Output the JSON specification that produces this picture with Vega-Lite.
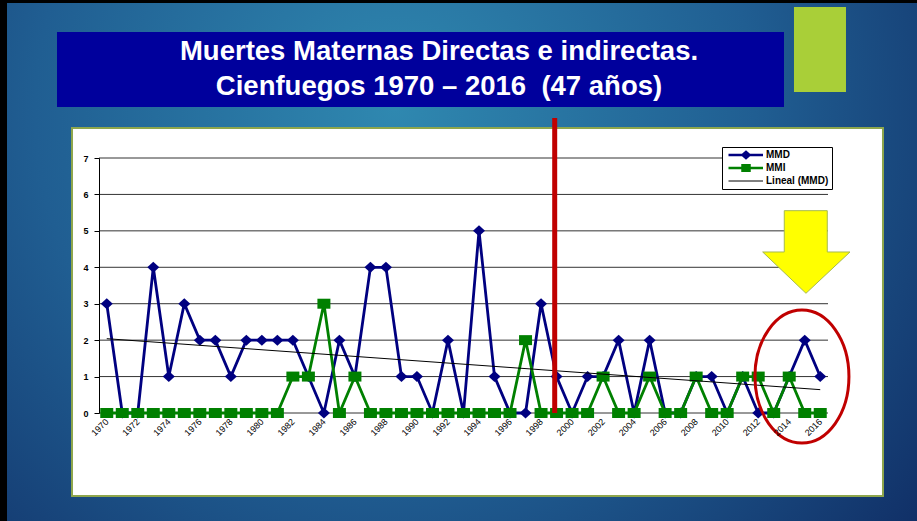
{
  "$schema": "https://vega.github.io/schema/vega-lite/v6.json",
  "width": 729,
  "height": 255,
  "autosize": {"type": "none"},
  "padding": {"left": 99, "top": 158, "right": 89, "bottom": 108},
  "background": "#000000",
  "config": {"view": {"stroke": null}, "font": "Liberation Sans", "axis": {"labelOverlap": false}},
  "resolve": {"axis": {"x": "independent", "y": "independent"}},
  "data": {"values": [
    {"year": 1970, "MMD": 3, "MMI": 0}, {"year": 1971, "MMD": 0, "MMI": 0}, {"year": 1972, "MMD": 0, "MMI": 0},
    {"year": 1973, "MMD": 4, "MMI": 0}, {"year": 1974, "MMD": 1, "MMI": 0}, {"year": 1975, "MMD": 3, "MMI": 0},
    {"year": 1976, "MMD": 2, "MMI": 0}, {"year": 1977, "MMD": 2, "MMI": 0}, {"year": 1978, "MMD": 1, "MMI": 0},
    {"year": 1979, "MMD": 2, "MMI": 0}, {"year": 1980, "MMD": 2, "MMI": 0}, {"year": 1981, "MMD": 2, "MMI": 0},
    {"year": 1982, "MMD": 2, "MMI": 1}, {"year": 1983, "MMD": 1, "MMI": 1}, {"year": 1984, "MMD": 0, "MMI": 3},
    {"year": 1985, "MMD": 2, "MMI": 0}, {"year": 1986, "MMD": 1, "MMI": 1}, {"year": 1987, "MMD": 4, "MMI": 0},
    {"year": 1988, "MMD": 4, "MMI": 0}, {"year": 1989, "MMD": 1, "MMI": 0}, {"year": 1990, "MMD": 1, "MMI": 0},
    {"year": 1991, "MMD": 0, "MMI": 0}, {"year": 1992, "MMD": 2, "MMI": 0}, {"year": 1993, "MMD": 0, "MMI": 0},
    {"year": 1994, "MMD": 5, "MMI": 0}, {"year": 1995, "MMD": 1, "MMI": 0}, {"year": 1996, "MMD": 0, "MMI": 0},
    {"year": 1997, "MMD": 0, "MMI": 2}, {"year": 1998, "MMD": 3, "MMI": 0}, {"year": 1999, "MMD": 1, "MMI": 0},
    {"year": 2000, "MMD": 0, "MMI": 0}, {"year": 2001, "MMD": 1, "MMI": 0}, {"year": 2002, "MMD": 1, "MMI": 1},
    {"year": 2003, "MMD": 2, "MMI": 0}, {"year": 2004, "MMD": 0, "MMI": 0}, {"year": 2005, "MMD": 2, "MMI": 1},
    {"year": 2006, "MMD": 0, "MMI": 0}, {"year": 2007, "MMD": 0, "MMI": 0}, {"year": 2008, "MMD": 1, "MMI": 1},
    {"year": 2009, "MMD": 1, "MMI": 0}, {"year": 2010, "MMD": 0, "MMI": 0}, {"year": 2011, "MMD": 1, "MMI": 1},
    {"year": 2012, "MMD": 0, "MMI": 1}, {"year": 2013, "MMD": 0, "MMI": 0}, {"year": 2014, "MMD": 1, "MMI": 1},
    {"year": 2015, "MMD": 2, "MMI": 0}, {"year": 2016, "MMD": 1, "MMI": 0}
  ]},
  "layer": [
    {
      "data": {"values": [{}]},
      "mark": {"type": "rect", "color": {"gradient": "radial", "x1": 0.42, "y1": 0.33, "x2": 0.42, "y2": 0.33, "r1": 0, "r2": 0.78,
        "stops": [{"offset": 0, "color": "#2F88B0"}, {"offset": 0.5, "color": "#205E92"}, {"offset": 1, "color": "#0E2860"}]}},
      "encoding": {
        "x": {"datum": 1963.569, "type": "quantitative", "axis": null}, "x2": {"datum": 2023.07},
        "y": {"datum": 11.255, "type": "quantitative", "axis": null}, "y2": {"datum": -3.21}
      }
    },
    {
      "data": {"values": [{}]},
      "mark": {"type": "rect", "fill": "#FFFFFF", "stroke": "#8EA64C", "strokeWidth": 2},
      "encoding": {
        "x": {"datum": 1967.759, "type": "quantitative", "axis": null}, "x2": {"datum": 2020.045},
        "y": {"datum": 7.824, "type": "quantitative", "axis": null}, "y2": {"datum": -2.278}
      }
    },
    {
      "data": {"values": [{}]},
      "mark": {"type": "rect", "fill": "#00009C"},
      "encoding": {
        "x": {"datum": 1966.792, "type": "quantitative", "axis": null}, "x2": {"datum": 2013.663},
        "y": {"datum": 10.459, "type": "quantitative", "axis": null}, "y2": {"datum": 8.4}
      }
    },
    {
      "data": {"values": [{}]},
      "mark": {"type": "rect", "fill": "#A9CF38"},
      "encoding": {
        "x": {"datum": 2014.307, "type": "quantitative", "axis": null}, "x2": {"datum": 2017.66},
        "y": {"datum": 11.145, "type": "quantitative", "axis": null}, "y2": {"datum": 8.812}
      }
    },
    {
      "data": {"values": [{}]},
      "mark": {"type": "text", "text": ["Muertes Maternas Directas e indirectas.", "Cienfuegos 1970 – 2016 \u00a0(47 años)"],
        "lineHeight": 35, "baseline": "alphabetic", "align": "center", "font": "Liberation Sans", "fontWeight": "bold",
        "fontSize": 27.5, "color": "#FFFFFF"},
      "encoding": {
        "x": {"datum": 1991.42, "type": "quantitative", "axis": null},
        "y": {"datum": 9.69, "type": "quantitative", "axis": null}
      }
    },
    {
      "data": {"values": [{"g": 0}, {"g": 1}, {"g": 2}, {"g": 3}, {"g": 4}, {"g": 5}, {"g": 6}, {"g": 7}]},
      "mark": {"type": "rule", "color": "#333333", "strokeWidth": 1},
      "encoding": {"y": {"field": "g", "type": "quantitative", "axis": null}}
    },
    {
      "mark": {"type": "line", "strokeWidth": 2.8,
        "point": {"shape": "M-6,0L0,-5.5L6,0L0,5.5Z", "size": 4, "filled": true, "opacity": 1}},
      "encoding": {
        "x": {"field": "year", "type": "quantitative", "title": null,
          "scale": {"domain": [1969.5, 2016.5], "nice": false, "zero": false},
          "axis": {"values": [1970, 1972, 1974, 1976, 1978, 1980, 1982, 1984, 1986, 1988, 1990, 1992, 1994, 1996, 1998, 2000, 2002, 2004, 2006, 2008, 2010, 2012, 2014, 2016],
            "format": "d", "labelAngle": -45, "labelFontSize": 9, "labelFont": "Liberation Sans", "labelColor": "#000000",
            "ticks": false, "domain": false, "grid": false, "title": null, "zindex": 1, "labelPadding": 4, "labelOffset": -3, "labelOverlap": false}},
        "y": {"field": "MMD", "type": "quantitative", "title": null,
          "scale": {"domain": [0, 7], "nice": false, "zero": true},
          "axis": {"values": [0, 1, 2, 3, 4, 5, 6, 7], "format": "d", "labelFontWeight": "bold", "labelFontSize": 9,
            "labelFont": "Liberation Sans", "labelColor": "#000000", "tickSize": 5, "tickColor": "#000000",
            "domainColor": "#000000", "grid": false, "title": null, "zindex": 1, "labelPadding": 6, "labelOverlap": false}},
        "color": {"datum": "MMD", "type": "nominal",
          "scale": {"domain": ["MMD", "MMI", "Lineal (MMD)"], "range": ["#000080", "#008000", "#000000"]},
          "legend": {"title": null, "orient": "none", "legendX": 623, "legendY": -11, "fillColor": "#FFFFFF",
            "strokeColor": "#000000", "padding": 3, "labelFont": "Liberation Sans", "labelFontWeight": "bold",
            "labelFontSize": 10, "labelColor": "#000000", "symbolSize": 100, "rowPadding": -6, "labelOffset": 31,
            "encode": {"symbols": {"update": {
              "shape": {"signal": "datum.value === 'MMD' ? 'M-0.3,0H6.6M2.5,0L3.2,-0.6L3.9,0L3.2,0.6Z' : datum.value === 'MMI' ? 'M-0.3,0H6.6M2.5,-0.56H3.9V0.56H2.5Z' : 'M-0.3,0H6.6'"},
              "size": {"value": 100},
              "fill": {"scale": "color", "field": "value"},
              "stroke": {"scale": "color", "field": "value"},
              "strokeWidth": {"signal": "datum.value === 'Lineal (MMD)' ? 1 : 2.5"},
              "opacity": {"value": 1}
            }}}}}
      }
    },
    {
      "mark": {"type": "line", "strokeWidth": 2.8,
        "point": {"shape": "M-6.5,-5H6.5V5H-6.5Z", "size": 4, "filled": true, "opacity": 1}},
      "encoding": {
        "x": {"field": "year", "type": "quantitative", "axis": null},
        "y": {"field": "MMI", "type": "quantitative", "axis": null},
        "color": {"datum": "MMI", "type": "nominal"}
      }
    },
    {
      "transform": [{"regression": "MMD", "on": "year"}],
      "mark": {"type": "line", "strokeWidth": 1},
      "encoding": {
        "x": {"field": "year", "type": "quantitative", "axis": null},
        "y": {"field": "MMD", "type": "quantitative", "axis": null},
        "color": {"datum": "Lineal (MMD)", "type": "nominal"}
      }
    },
    {
      "data": {"values": [{}]},
      "mark": {"type": "rule", "color": "#C00000", "strokeWidth": 5},
      "encoding": {
        "x": {"datum": 1998.88, "type": "quantitative", "axis": null},
        "y": {"datum": 0, "type": "quantitative", "axis": null}, "y2": {"datum": 8.1}
      }
    },
    {
      "data": {"values": [{}]},
      "mark": {"type": "point", "shape": "M-21.7,-41.3L21.3,-41.3L21.3,0L44,0L0,41.3L-43.3,0L-21.7,0Z", "size": 4,
        "filled": true, "fill": "#FFFF00", "stroke": "#A6B94E", "strokeWidth": 1, "opacity": 1},
      "encoding": {
        "x": {"datum": 2015.08, "type": "quantitative", "axis": null},
        "y": {"datum": 4.42, "type": "quantitative", "axis": null}
      }
    },
    {
      "data": {"values": [{}]},
      "mark": {"type": "point", "shape": "M-47,0A47,66.5 0 1,1 47,0A47,66.5 0 1,1 -47,0Z", "size": 4,
        "filled": false, "stroke": "#C00000", "strokeWidth": 3, "opacity": 1},
      "encoding": {
        "x": {"datum": 2014.82, "type": "quantitative", "axis": null},
        "y": {"datum": 1.0, "type": "quantitative", "axis": null}
      }
    }
  ]
}
